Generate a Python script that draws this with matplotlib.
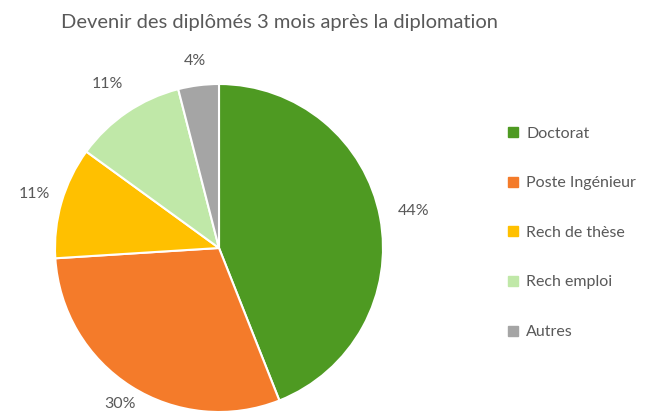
import matplotlib
matplotlib.use("Agg")
import matplotlib.pyplot as plt
from matplotlib.lines import Line2D
import numpy as np

categories = ["Doctorat", "Poste Ingénieur", "Rech de thèse", "Rech emploi", "Autres"]
values = [44, 30, 11, 11, 4]
colors = ["#4E9A22", "#F47B2A", "#FFC000", "#C0E8A8", "#A5A5A5"]
title = "Devenir des diplômés 3 mois après la diplomation"

plt.rcParams['font.family'] = ['Lato', 'DejaVu Sans']
text_color = "#595959"

fig = plt.figure(figsize=(6.46, 4.16), dpi=100)

# pie axes: centre around (219, 248) px, radius ~164 px
cx, cy, r = 219, 248, 164
W, H = 646, 416
ax = fig.add_axes([(cx - r) / W, (H - cy - r) / H, 2 * r / W, 2 * r / H])

wedges, texts = ax.pie(values, colors=colors, startangle=90, counterclock=False,
                       wedgeprops=dict(edgecolor="white", linewidth=1.5))
ax.set_xlim(-1, 1)
ax.set_ylim(-1, 1)
ax.set_aspect("equal")
ax.axis("off")

# percentage labels outside the slices (Excel "best fit" puts them at slightly different distances)
label_dist = [1.21, 1.13, 1.17, 1.21, 1.15]
total = sum(values)
for w, v, d in zip(wedges, values, label_dist):
    mid = np.deg2rad((w.theta1 + w.theta2) / 2)
    ax.text(d * np.cos(mid), d * np.sin(mid), f"{v / total * 100:.0f}%",
            ha="center", va="center", fontsize=11.5, color=text_color, clip_on=False)

fig.text(0.432, 0.947, title, ha="center", va="center", fontsize=14.5, color=text_color)

handles = [Line2D([0], [0], marker="s", linestyle="none", markersize=7,
                  markerfacecolor=c, markeredgecolor=c) for c in colors]
fig.legend(handles, categories, loc="upper left", bbox_to_anchor=(491 / W, 1 - 112 / H),
           frameon=False, fontsize=11.5, labelcolor=text_color, labelspacing=2.22,
           handletextpad=0.3, handlelength=1.0)

fig.savefig("out.png", dpi=100)
